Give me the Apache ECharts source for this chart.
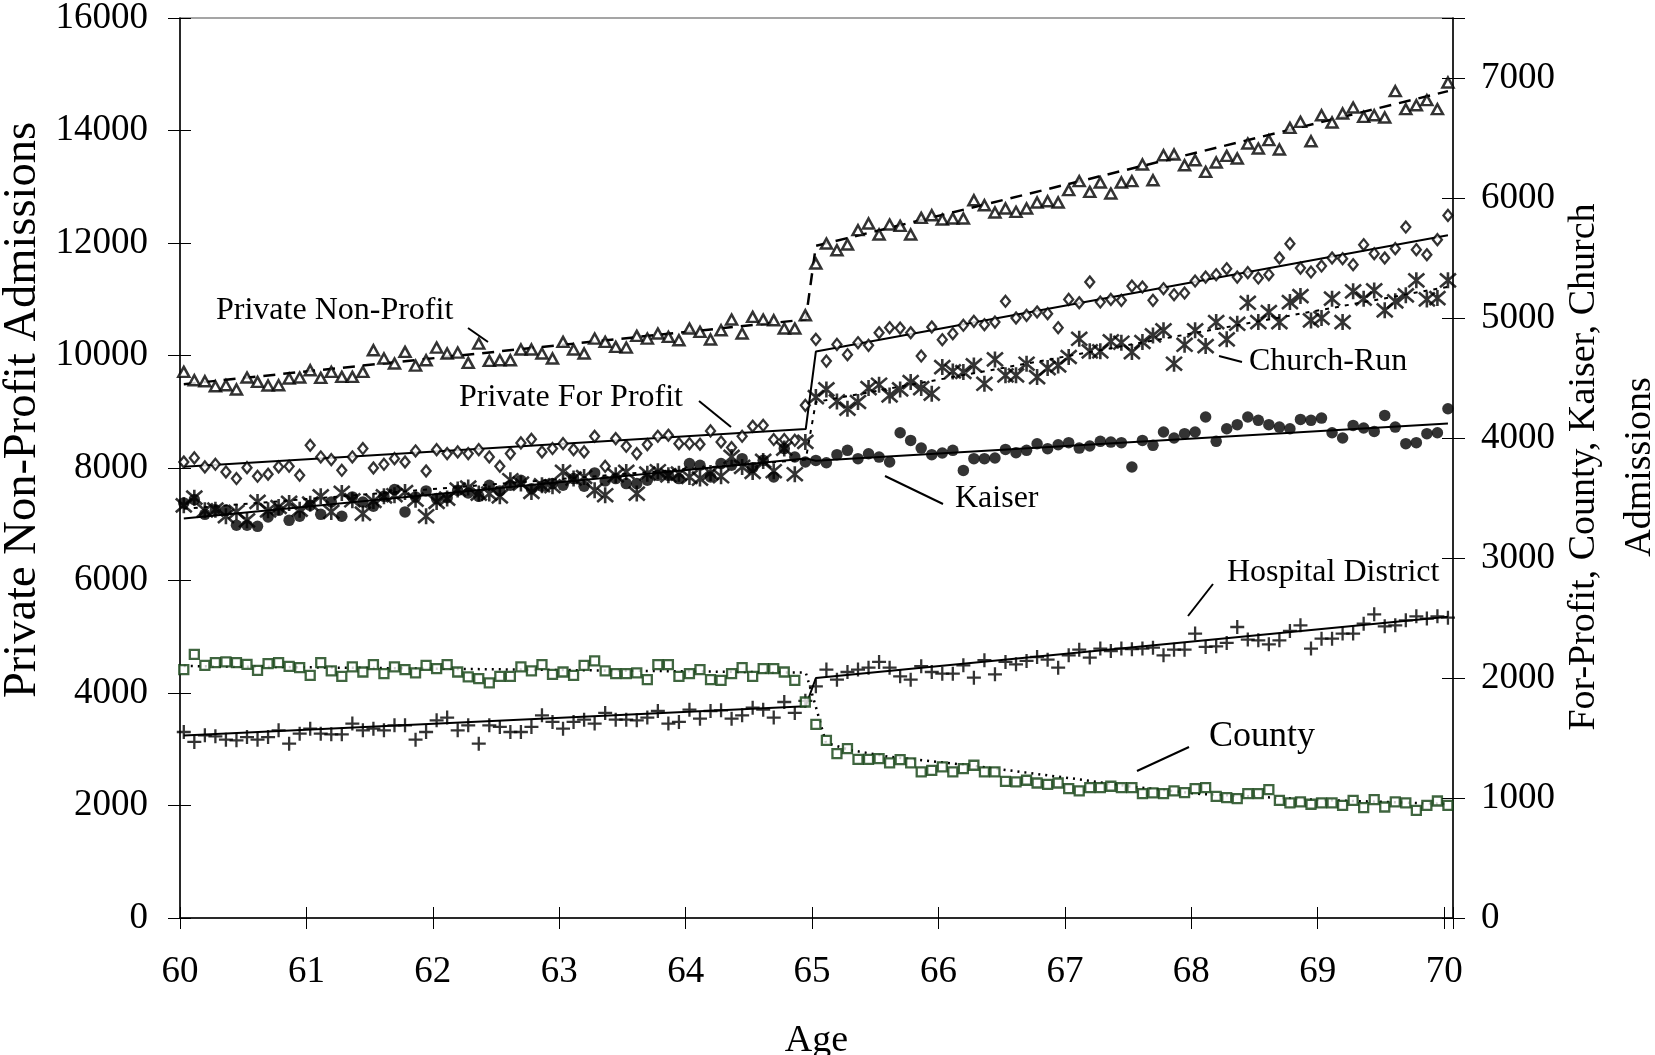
<!DOCTYPE html>
<html><head><meta charset="utf-8">
<script src="https://cdn.jsdelivr.net/npm/echarts@6/dist/echarts.min.js"></script>
<style>html,body{margin:0;padding:0;background:#fff}#c{width:1655px;height:1055px}</style>
</head><body><div id="c"></div>
<script>
// monthly age grid (first observation slightly after 60)
const FIRST_AGE = 60.03, MONTH = 1 / 12, N_MONTHS = 121;
const ages = Array.from({length: N_MONTHS}, (_, k) => +(FIRST_AGE + k * MONTH).toFixed(4));
const xTickLabels = ['60','61','62','63','64','65','66','67','68','69','70'];

// Private Non-Profit (left axis)
const privateNonProfit = [9709,9561,9543,9454,9472,9395,9608,9531,9466,9472,9590,9608,9738,9602,9709,9620,9620,9709,10094,9946,9857,10064,9821,9916,10141,10035,10052,9869,10212,9904,9916,9916,10106,10106,10035,9946,10242,10106,10035,10301,10242,10153,10141,10349,10301,10390,10331,10272,10479,10420,10284,10450,10639,10390,10687,10639,10627,10479,10479,10716,
11635,11990,11872,11973,12228,12346,12151,12328,12305,12151,12447,12494,12417,12435,12435,12761,12672,12542,12613,12554,12613,12720,12743,12720,
12939,13099,12909,13075,12879,13075,13099,13395,13116,13561,13573,13383,13472,13265,13431,13549,13502,13768,13679,13828,13662,14047,14154,13810,14272,14142,14302,14408,14243,14272,14231,14699,14379,14450,14539,14379,14853];
// Private For Profit (right axis)
const privateForProfit = [3800,3834,3759,3781,3717,3662,3753,3681,3698,3759,3764,3689,3939,3842,3820,3731,3842,3912,3750,3781,3828,3800,3892,3725,3903,3870,3884,3870,3903,3842,3764,
3870,3959,3989,3884,3912,3953,3903,3884,4014,3764,3995,3931,3870,3945,4014,4023,3953,3953,3948,4059,3967,3920,4014,4098,4106,3987,3987,3981,4272,
4822,4641,4780,4694,4794,4772,4877,4919,4916,4877,4683,4925,4819,4869,4939,4972,4944,4966,5139,5000,5022,5050,5036,4919,5155,5127,5300,5133,5155,5147,5266,
5258,5147,5244,5194,5208,5308,5341,5361,5411,5341,5378,5333,5361,5500,5619,5416,5383,5433,5500,5494,5444,5611,5536,5500,5578,5758,5569,5527,5653,5855];
// Church-Run (right axis)
const churchRun = [3439,3503,3397,3403,3348,3384,3314,3467,3397,3425,3459,3403,3453,3514,3384,3542,3481,3370,3475,3514,3523,3550,3486,3348,3467,3495,3570,3587,3537,3537,3514,
3648,3620,3550,3606,3598,3717,3662,3675,3564,3523,3689,3717,3537,3703,3723,3689,3703,3675,3662,3709,3681,3842,3759,3717,3809,3723,3912,3698,3967,
4341,4405,4305,4244,4300,4416,4444,4355,4405,4466,4416,4369,4591,4555,4550,4605,4452,4655,4522,4522,4619,4508,4583,4605,4675,4827,4722,4722,4805,4794,4716,
4800,4855,4897,4619,4777,4897,4766,4966,4822,4952,5127,4966,5050,4966,5133,5183,4980,5000,5161,4966,5222,5161,5230,5064,5139,5189,5314,5155,5166,5314];
// Kaiser (right axis)
const kaiser = [3459,3486,3364,3403,3397,3273,3273,3264,3342,3397,3314,3348,3439,3364,3467,3348,3509,3467,3431,3514,3570,3384,3509,3559,3495,3503,3564,3542,3514,3606,3559,
3606,3648,3578,3598,3620,3606,3662,3598,3709,3642,3662,3620,3620,3648,3689,3689,3662,3787,3773,3675,3787,3773,3828,3753,3814,3675,3912,3842,3800,
3813,3794,3861,3897,3828,3869,3841,3800,4044,3980,3916,3861,3875,3897,3730,3828,3828,3833,3905,3878,3897,3952,3911,3944,3961,3916,3933,3972,3966,3961,3758,
3980,3939,4050,4000,4036,4050,4175,3972,4077,4111,4175,4147,4111,4091,4077,4155,4147,4166,4044,4000,4105,4083,4055,4188,4091,3953,3961,4036,4044,4244];
// Hospital District (right axis)
const hospitalDistrict = [1550,1467,1522,1514,1486,1481,1508,1486,1508,1564,1453,1536,1578,1536,1531,1531,1620,1564,1578,1564,1606,1606,1486,1550,1647,1670,1564,1606,1453,1606,1592,1550,1550,1592,1689,1634,1578,1634,1653,1620,1709,1653,1653,1647,1670,1725,1620,1634,1736,1661,1725,1731,1661,1689,1753,1736,1670,1800,1709,1810,
1931,2070,1986,2050,2070,2086,2134,2086,2014,1986,2098,2050,2036,2036,2106,2003,2148,2031,2134,2114,2142,2175,2153,2086,2189,2236,2170,2245,2225,2245,2240,
2245,2253,2189,2236,2236,2370,2259,2264,2292,2425,2320,2314,2281,2314,2392,2439,2245,2328,2328,2370,2370,2453,2531,2431,2439,2481,2514,2495,2514,2503];
// County (right axis)
const county = [2070,2197,2106,2128,2134,2128,2114,2064,2120,2128,2097,2086,2022,2128,2059,2014,2092,2050,2111,2036,2092,2070,2042,2106,2078,2111,2050,2009,1995,1959,2014,2014,2092,2059,2111,2031,2050,2022,2106,2142,2059,2036,2036,2042,1986,2111,2111,2014,2036,2070,1986,1981,2036,2086,2014,2078,2078,2050,1981,1800,
1614,1481,1370,1411,1322,1322,1328,1292,1320,1292,1217,1231,1259,1217,1245,1273,1217,1217,1139,1134,1148,1125,1114,1125,1078,1059,1086,1086,1098,1086,1086,
1036,1042,1036,1059,1045,1078,1086,1014,1003,995,1036,1036,1070,981,959,967,948,959,959,939,981,920,986,925,967,959,897,939,975,939];

// fitted lines [age, value]
const pnpFit = [[60.03,9490],[64.95,10640],[65.03,11950],[70.03,14700]];
const forProfitFit = [[60.03,3760],[64.95,4075],[65.03,4720],[70.03,5690]];
const churchFit = [[60.03,3410],[64.95,3820],[65.03,4300],[70.03,5260]];
const kaiserFit = [[60.03,3330],[64.95,3830],[65.03,3810],[70.03,4120]];
const hospitalFit = [[60.03,1520],[64.95,1765],[65.03,2000],[70.03,2510]];
const countyFit = [[60.03,2100],[64.95,2045],[65.03,1760],[65.11,1460],[65.3,1400],[65.6,1345],[66.3,1265],[67.15,1150],[67.52,1095],[68.05,1035],[69,985],[70.03,950]];

const FONT = '"Liberation Serif", "Times New Roman", serif';
const pts = vals => vals.map((v, k) => [ages[k], v]);
const ASTER = 'path://M0,0L12,12M12,0L0,12M6,-1L6,13';
const PLUS = 'path://M6,0L6,12M0,6L12,6';
const GREEN = '#0f3f0f';
const lblStyle = {fontSize: 37, fontFamily: FONT, color: '#000'};

const chart = echarts.init(document.getElementById('c'), null, {renderer: 'canvas'});

function fitLine(data, yIdx, type, width) {
  return {type: 'line', data, xAxisIndex: 0, yAxisIndex: yIdx, symbol: 'none', silent: true, z: 2,
    lineStyle: {color: '#000', width, type}, emphasis: {disabled: true}};
}
function marks(vals, yIdx, symbol, size, itemStyle) {
  return {type: 'scatter', data: pts(vals), xAxisIndex: 0, yAxisIndex: yIdx, symbol, symbolSize: size,
    itemStyle, silent: true, z: 3, emphasis: {disabled: true}};
}
const hollow = (c, w) => ({color: '#fff', borderColor: c, borderWidth: w});
const strokeOnly = w => ({color: 'rgba(0,0,0,0)', borderColor: '#000', borderWidth: w});

const xBase = {type: 'value', min: 60, max: 70.07, interval: 1, position: 'bottom', splitLine: {show: false}};
const leftBase = {type: 'value', min: 0, max: 16000, interval: 2000, position: 'left', splitLine: {show: false}};
const rightBase = {type: 'value', min: 0, max: 7500, interval: 1000, position: 'right', splitLine: {show: false}};
const tickStyle = {color: '#000', width: 1};

chart.setOption({
  animation: false,
  backgroundColor: '#fff',
  grid: {left: 180, right: 202, top: 18, bottom: 137, show: true, borderColor: '#888', borderWidth: 1.5,
    containLabel: false, outerBoundsMode: 'none'},
  xAxis: [
    Object.assign({}, xBase, {
      axisLine: {onZero: false, lineStyle: {color: '#000', width: 1.5}},
      axisTick: {inside: false, length: 11, lineStyle: tickStyle},
      axisLabel: Object.assign({margin: 36, formatter: v => xTickLabels.includes(String(v)) ? String(v) : ''}, lblStyle),
      name: 'Age', nameLocation: 'middle', nameGap: 104, nameTextStyle: Object.assign({}, lblStyle, {fontSize: 38})
    }),
    Object.assign({}, xBase, {axisLine: {show: false, onZero: false}, axisTick: {inside: true, length: 11, lineStyle: tickStyle}, axisLabel: {show: false}})
  ],
  yAxis: [
    Object.assign({}, leftBase, {
      axisLine: {show: true, onZero: false, lineStyle: {color: '#000', width: 1.5}},
      axisTick: {inside: false, length: 12, lineStyle: tickStyle},
      axisLabel: Object.assign({margin: 32, formatter: v => String(v)}, lblStyle)
    }),
    Object.assign({}, leftBase, {axisLine: {show: false}, axisTick: {inside: true, length: 11, lineStyle: tickStyle}, axisLabel: {show: false}}),
    Object.assign({}, rightBase, {
      axisLine: {show: true, onZero: false, lineStyle: {color: '#000', width: 1.5}},
      axisTick: {inside: false, length: 12, lineStyle: tickStyle},
      axisLabel: Object.assign({margin: 28, formatter: v => v <= 7000 ? String(v) : ''}, lblStyle)
    }),
    Object.assign({}, rightBase, {axisLine: {show: false}, axisTick: {inside: true, length: 11, lineStyle: tickStyle}, axisLabel: {show: false}})
  ],
  series: [
    fitLine(pnpFit, 0, [12, 8], 2.5),
    fitLine(forProfitFit, 2, 'solid', 2),
    fitLine(churchFit, 2, [4, 6], 2),
    fitLine(kaiserFit, 2, 'solid', 2),
    fitLine(hospitalFit, 2, 'solid', 2),
    fitLine(countyFit, 2, [2, 5], 2.5),
    marks(privateNonProfit, 0, 'triangle', [11, 10], hollow('#000', 2.5)),
    marks(privateForProfit, 2, 'diamond', [9, 11], hollow('#000', 2.3)),
    marks(churchRun, 2, ASTER, 16, strokeOnly(2.6)),
    marks(kaiser, 2, 'circle', 11.5, {color: '#000'}),
    marks(hospitalDistrict, 2, PLUS, 14, strokeOnly(2.3)),
    marks(county, 2, 'rect', 9, hollow(GREEN, 2.3))
  ],
  graphic: [
    {type: 'text', z: 10, x: 23, y: 410, rotation: Math.PI / 2,
      style: {text: 'Private Non-Profit Admissions', font: '46.5px ' + FONT, fill: '#000', align: 'center', verticalAlign: 'middle'}},
    {type: 'text', z: 10, x: 1612, y: 467, rotation: Math.PI / 2,
      style: {text: 'For-Profit, County, Kaiser, Church\nAdmissions', font: '38px ' + FONT, lineHeight: 56, fill: '#000', align: 'center', verticalAlign: 'middle'}},
    {type: 'text', z: 10, x: 216, y: 311, style: {text: 'Private Non-Profit', font: '32px ' + FONT, fill: '#000', align: 'left', verticalAlign: 'middle'}},
    {type: 'line', z: 10, shape: {x1: 468, y1: 328, x2: 488, y2: 342}, style: {stroke: '#000', lineWidth: 2}},
    {type: 'text', z: 10, x: 459, y: 398, style: {text: 'Private For Profit', font: '32px ' + FONT, fill: '#000', align: 'left', verticalAlign: 'middle'}},
    {type: 'line', z: 10, shape: {x1: 699, y1: 401, x2: 731, y2: 427}, style: {stroke: '#000', lineWidth: 2}},
    {type: 'text', z: 10, x: 955, y: 499, style: {text: 'Kaiser', font: '32px ' + FONT, fill: '#000', align: 'left', verticalAlign: 'middle'}},
    {type: 'line', z: 10, shape: {x1: 885, y1: 476, x2: 943, y2: 504}, style: {stroke: '#000', lineWidth: 2}},
    {type: 'text', z: 10, x: 1249, y: 362, style: {text: 'Church-Run', font: '32px ' + FONT, fill: '#000', align: 'left', verticalAlign: 'middle'}},
    {type: 'line', z: 10, shape: {x1: 1219, y1: 356, x2: 1242, y2: 362}, style: {stroke: '#000', lineWidth: 2}},
    {type: 'text', z: 10, x: 1227, y: 573, style: {text: 'Hospital District', font: '32px ' + FONT, fill: '#000', align: 'left', verticalAlign: 'middle'}},
    {type: 'line', z: 10, shape: {x1: 1188, y1: 616, x2: 1213, y2: 584}, style: {stroke: '#000', lineWidth: 2}},
    {type: 'text', z: 10, x: 1209, y: 737, style: {text: 'County', font: '36px ' + FONT, fill: '#000', align: 'left', verticalAlign: 'middle'}},
    {type: 'line', z: 10, shape: {x1: 1137, y1: 771, x2: 1189, y2: 747}, style: {stroke: '#000', lineWidth: 2}}
  ]
});
</script></body></html>
